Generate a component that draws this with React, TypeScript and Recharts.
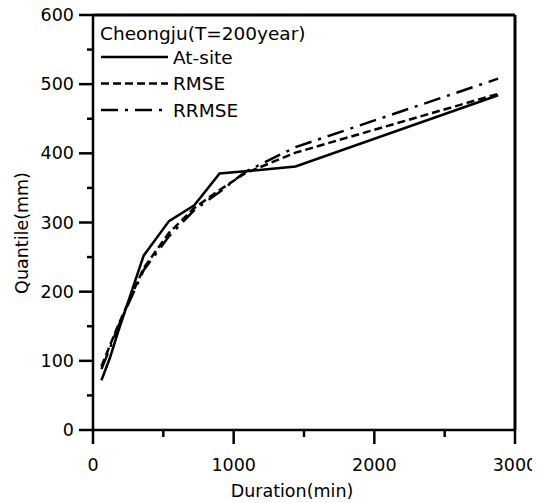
import React from 'react';
import { LineChart, Line, XAxis, YAxis, ReferenceLine, Legend, Label } from 'recharts';

// durations in minutes, quantiles in mm
const durations = [60, 120, 180, 360, 540, 720, 900, 1080, 1440, 2880];
const atSite = [72, 104, 143, 252, 302, 325, 371, 374, 381, 484];
const rmse = [92, 122, 152, 234, 285, 321, 347, 371, 401, 486];
const rrmse = [88, 118, 150, 231, 280, 318, 344, 373, 409, 508];

const xTicks = [0, 500, 1000, 1500, 2000, 2500, 3000];
const yTicks = [0, 50, 100, 150, 200, 250, 300, 350, 400, 450, 500, 550, 600];

const seriesNames = ['At-site', 'RMSE', 'RRMSE'];
const legendTitle = 'Cheongju(T=200year)';

const FONT = '"DejaVu Sans", Verdana, sans-serif';
const dashes = ['', '8 4', '17 7 3 7'];

const data = durations.map((d, i) => ({
  duration: d,
  atSite: atSite[i],
  rmse: rmse[i],
  rrmse: rrmse[i],
}));

const XTick = (props: any) => {
  const { x, y, payload } = props;
  const major = payload.value % 1000 === 0;
  return (
    <g>
      <line x1={x} y1={y} x2={x} y2={y + (major ? 14 : 7)} stroke="#000" strokeWidth={2.5} />
      {major && (
        <text x={x} y={y + 35} textAnchor="middle" dominantBaseline="central"
          fontFamily={FONT} fontSize={17.5} fill="#000">
          {payload.value}
        </text>
      )}
    </g>
  );
};

const YTick = (props: any) => {
  const { x, y, payload } = props;
  const major = payload.value % 100 === 0;
  return (
    <g>
      <line x1={x - (major ? 14 : 6)} y1={y} x2={x} y2={y} stroke="#000" strokeWidth={2.5} />
      {major && (
        <text x={x - 19} y={y} textAnchor="end" dominantBaseline="central"
          fontFamily={FONT} fontSize={17.5} fill="#000">
          {payload.value}
        </text>
      )}
    </g>
  );
};

const LegendBox = () => (
  <svg width={240} height={115} style={{ display: 'block' }}>
    <text x={3} y={16} dominantBaseline="central" fontFamily={FONT} fontSize={18.5} fill="#000">
      {legendTitle}
    </text>
    {seriesNames.map((name, i) => {
      const cy = 40 + i * 26.5;
      return (
        <g key={name}>
          <line x1={4} y1={cy} x2={71} y2={cy} stroke="#000" strokeWidth={2.5}
            strokeDasharray={dashes[i] || undefined} />
          <text x={76} y={cy} dominantBaseline="central" fontFamily={FONT} fontSize={18.5} fill="#000">
            {name}
          </text>
        </g>
      );
    })}
  </svg>
);

export default function App() {
  return (
    <div style={{ margin: '-8px 0 0 -8px', width: 540, height: 503 }}>
      <LineChart width={540} height={503} data={data}
        margin={{ top: 15, right: 25, left: 0, bottom: 0 }}>
        <XAxis dataKey="duration" type="number" domain={[0, 3000]} ticks={xTicks}
          interval={0} height={73} tickSize={0} tickMargin={0} tickLine={false}
          tick={<XTick />} axisLine={{ stroke: '#000', strokeWidth: 2.5 }}>
          <Label content={() => (
            <text x={292} y={491} textAnchor="middle" dominantBaseline="central"
              fontFamily={FONT} fontSize={17.5} fill="#000">Duration(min)</text>
          )} />
        </XAxis>
        <YAxis type="number" domain={[0, 600]} ticks={yTicks} interval={0} width={93}
          tickSize={0} tickMargin={0} tickLine={false} tick={<YTick />}
          axisLine={{ stroke: '#000', strokeWidth: 2.5 }}>
          <Label content={() => (
            <text x={22} y={233} transform="rotate(-90 22 233)" textAnchor="middle"
              dominantBaseline="central" fontFamily={FONT} fontSize={17.5} fill="#000">Quantile(mm)</text>
          )} />
        </YAxis>
        <ReferenceLine x={3000} stroke="#000" strokeWidth={3} />
        <ReferenceLine y={600} stroke="#000" strokeWidth={3} />
        <Legend layout="vertical" align="center" verticalAlign="middle"
          wrapperStyle={{ left: 97, top: 17, width: 240 }} content={() => <LegendBox />} />
        <Line type="linear" dataKey="atSite" name={seriesNames[0]} stroke="#000" strokeWidth={2.5}
          dot={false} isAnimationActive={false} />
        <Line type="linear" dataKey="rmse" name={seriesNames[1]} stroke="#000" strokeWidth={2.5}
          strokeDasharray={dashes[1]} dot={false} isAnimationActive={false} />
        <Line type="linear" dataKey="rrmse" name={seriesNames[2]} stroke="#000" strokeWidth={2.5}
          strokeDasharray={dashes[2]} dot={false} isAnimationActive={false} />
      </LineChart>
    </div>
  );
}
